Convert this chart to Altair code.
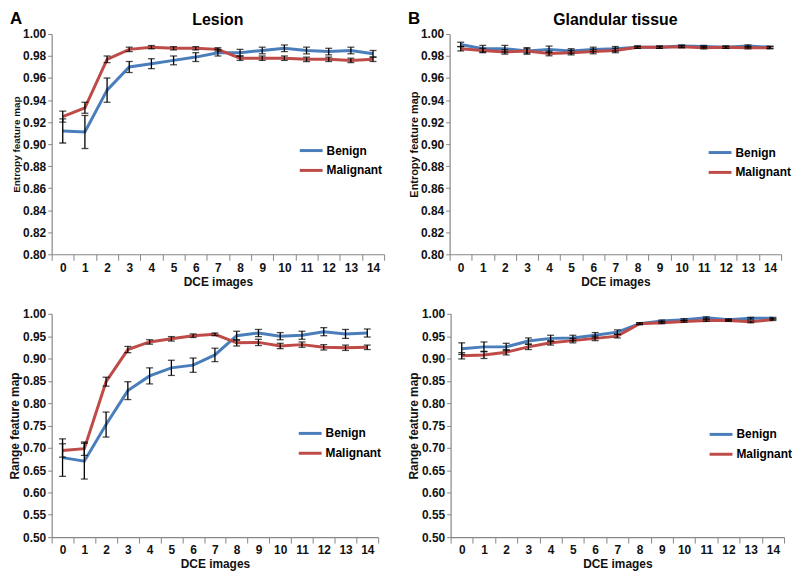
import altair as alt
import pandas as pd

FONT = "Liberation Sans"
BLUE = "#4A7EBB"
RED = "#BE4B48"

images = list(range(15))
series_names = ["Benign", "Malignant"]

# Panel A top: Lesion, entropy
lesion_entropy_benign = [0.912, 0.911, 0.949, 0.970, 0.973, 0.976, 0.979, 0.983, 0.983, 0.985, 0.987, 0.985, 0.984, 0.985, 0.982]
lesion_entropy_benign_err = [0.011, 0.015, 0.011, 0.005, 0.0045, 0.004, 0.004, 0.003, 0.003, 0.003, 0.003, 0.003, 0.003, 0.003, 0.003]
lesion_entropy_malignant = [0.925, 0.933, 0.977, 0.986, 0.988, 0.987, 0.987, 0.986, 0.978, 0.978, 0.978, 0.977, 0.977, 0.976, 0.977]
lesion_entropy_malignant_err = [0.005, 0.005, 0.003, 0.002, 0.0015, 0.0015, 0.0015, 0.0015, 0.002, 0.002, 0.002, 0.002, 0.002, 0.002, 0.002]

# Panel B top: Glandular tissue, entropy
gland_entropy_benign = [0.9905, 0.9866, 0.9866, 0.9846, 0.986, 0.9846, 0.986, 0.9866, 0.988, 0.988, 0.989, 0.9887, 0.988, 0.989, 0.988]
gland_entropy_benign_err = [0.002, 0.003, 0.003, 0.003, 0.003, 0.002, 0.002, 0.002, 0.001, 0.001, 0.001, 0.001, 0.001, 0.001, 0.001]
gland_entropy_malignant = [0.9866, 0.985, 0.9837, 0.9846, 0.9822, 0.983, 0.984, 0.985, 0.988, 0.988, 0.9884, 0.9875, 0.988, 0.9875, 0.9875]
gland_entropy_malignant_err = [0.002, 0.002, 0.002, 0.002, 0.002, 0.002, 0.002, 0.002, 0.001, 0.001, 0.001, 0.001, 0.001, 0.001, 0.001]

# Panel A bottom: Lesion, range
lesion_range_benign = [0.678, 0.670, 0.752, 0.828, 0.861, 0.879, 0.885, 0.908, 0.951, 0.957, 0.950, 0.952, 0.960, 0.955, 0.957]
lesion_range_benign_err = [0.042, 0.040, 0.028, 0.020, 0.018, 0.017, 0.016, 0.015, 0.010, 0.008, 0.008, 0.009, 0.009, 0.010, 0.009]
lesion_range_malignant = [0.694, 0.698, 0.848, 0.920, 0.937, 0.944, 0.951, 0.954, 0.935, 0.936, 0.928, 0.931, 0.925, 0.924, 0.925]
lesion_range_malignant_err = [0.015, 0.015, 0.010, 0.007, 0.005, 0.005, 0.004, 0.003, 0.007, 0.007, 0.006, 0.006, 0.006, 0.006, 0.005]

# Panel B bottom: Glandular tissue, range
gland_range_benign = [0.922, 0.926, 0.926, 0.939, 0.945, 0.946, 0.952, 0.959, 0.978, 0.984, 0.987, 0.991, 0.987, 0.990, 0.990]
gland_range_benign_err = [0.013, 0.011, 0.008, 0.007, 0.007, 0.006, 0.006, 0.005, 0.002, 0.002, 0.002, 0.002, 0.002, 0.002, 0.002]
gland_range_malignant = [0.906, 0.908, 0.914, 0.926, 0.935, 0.940, 0.945, 0.950, 0.978, 0.980, 0.983, 0.985, 0.985, 0.982, 0.987]
gland_range_malignant_err = [0.007, 0.008, 0.006, 0.006, 0.005, 0.005, 0.005, 0.004, 0.002, 0.002, 0.002, 0.002, 0.002, 0.002, 0.002]

entropy_ticks = [0.80, 0.82, 0.84, 0.86, 0.88, 0.90, 0.92, 0.94, 0.96, 0.98, 1.00]
range_ticks = [0.50, 0.55, 0.60, 0.65, 0.70, 0.75, 0.80, 0.85, 0.90, 0.95, 1.00]


def panel(mb, eb, mm, em, ticks, ytitle, ytitle_size, width, height, legend_xy,
          title=None, letter=None):
    rows = []
    for name, means, errs in [("Benign", mb, eb), ("Malignant", mm, em)]:
        for i, m, e in zip(images, means, errs):
            rows.append({"img": i, "series": name, "mean": m, "lo": m - e, "hi": m + e})
    df = pd.DataFrame(rows)

    x = alt.X("img:O", title="DCE images",
              scale=alt.Scale(type="band", paddingInner=0, paddingOuter=0),
              axis=alt.Axis(labelAngle=0, tickBand="extent", tickSize=6,
                            labelPadding=2, titlePadding=3, titleFontSize=12))
    yscale = alt.Scale(domain=[ticks[0], ticks[-1]], nice=False, zero=False)
    yaxis = alt.Axis(values=ticks, format=".2f", title=ytitle, titleFontSize=ytitle_size,
                     tickSize=4, labelPadding=2, titlePadding=1)

    base = alt.Chart(df)
    lines = base.mark_line(strokeWidth=3).encode(
        x=x,
        y=alt.Y("mean:Q", scale=yscale, axis=yaxis),
        color=alt.Color("series:N",
                        scale=alt.Scale(domain=series_names, range=[BLUE, RED]),
                        legend=alt.Legend(orient="none", legendX=legend_xy[0], legendY=legend_xy[1],
                                          title=None, symbolType="stroke", symbolSize=530,
                                          symbolStrokeWidth=3, labelFont=FONT, labelFontSize=12,
                                          labelFontWeight="bold", labelColor="black",
                                          labelOffset=2, rowPadding=-3)),
    )
    bars = base.mark_rule(color="black", strokeWidth=1.3).encode(
        x=x, y=alt.Y("lo:Q", scale=yscale, axis=yaxis), y2="hi:Q")
    cap_lo = base.mark_tick(color="black", size=7, thickness=1.3).encode(
        x=x, y=alt.Y("lo:Q", scale=yscale, axis=yaxis))
    cap_hi = base.mark_tick(color="black", size=7, thickness=1.3).encode(
        x=x, y=alt.Y("hi:Q", scale=yscale, axis=yaxis))
    layers = [lines, bars, cap_lo, cap_hi]
    if letter is not None:
        lab = alt.Chart(pd.DataFrame({"t": [letter]})).mark_text(
            font=FONT, fontSize=17, fontWeight="bold", align="left", baseline="top", color="black"
        ).encode(text="t:N", x=alt.value(-42), y=alt.value(-23))
        layers.append(lab)
    if title is not None:
        ttl = alt.Chart(pd.DataFrame({"t": [title]})).mark_text(
            font=FONT, fontSize=16, fontWeight="bold", align="center", baseline="top", color="black"
        ).encode(text="t:N", x=alt.value(width / 2), y=alt.value(-22))
        layers.append(ttl)
    ch = alt.layer(*layers).properties(width=width, height=height)
    return ch


a_top = panel(lesion_entropy_benign, lesion_entropy_benign_err,
              lesion_entropy_malignant, lesion_entropy_malignant_err,
              entropy_ticks, "Entropy feature map", 10, 335, 222, (248, 104),
              title="Lesion", letter="A")
b_top = panel(gland_entropy_benign, gland_entropy_benign_err,
              gland_entropy_malignant, gland_entropy_malignant_err,
              entropy_ticks, "Entropy feature map", 11, 334, 222, (259, 106),
              title="Glandular tissue", letter="B")
a_bot = panel(lesion_range_benign, lesion_range_benign_err,
              lesion_range_malignant, lesion_range_malignant_err,
              range_ticks, "Range feature map", 12, 329, 225, (247, 107))
b_bot = panel(gland_range_benign, gland_range_benign_err,
              gland_range_malignant, gland_range_malignant_err,
              range_ticks, "Range feature map", 12, 336, 225, (259, 108))

top = alt.hconcat(a_top, b_top, spacing=23).resolve_scale(color="independent").resolve_legend(color="independent")
bot = alt.hconcat(a_bot, b_bot, spacing=26).resolve_scale(color="independent").resolve_legend(color="independent")

chart = alt.vconcat(top, bot, spacing=21).resolve_scale(color="independent").resolve_legend(
    color="independent"
).properties(padding=0, background="white").configure_axis(
    grid=False, domainColor="#868686", tickColor="#868686", domainWidth=1.2,
    labelFont=FONT, labelFontSize=12, labelFontWeight="bold", labelColor="#111111",
    titleFont=FONT, titleFontWeight="bold", titleColor="#111111"
).configure_view(stroke=None)

chart.save("out.html", embed_options={"renderer": "svg", "actions": False})
